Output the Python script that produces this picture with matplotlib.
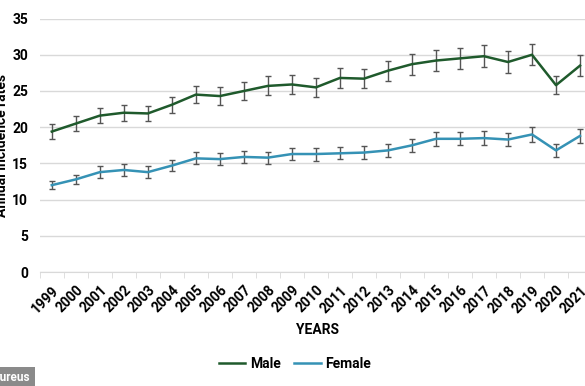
import matplotlib
matplotlib.use("Agg")
import matplotlib.pyplot as plt
import numpy as np

years = [str(y) for y in range(1999, 2022)]
male = [19.4, 20.5, 21.6, 22.0, 21.9, 23.1, 24.5, 24.3, 25.0, 25.7, 25.9,
        25.5, 26.8, 26.7, 27.8, 28.7, 29.2, 29.5, 29.8, 29.0, 30.0, 25.8, 28.5]
male_err = [1.0, 1.04, 1.08, 1.1, 1.06, 1.13, 1.17, 1.24, 1.22, 1.3, 1.27,
            1.31, 1.38, 1.33, 1.38, 1.45, 1.47, 1.47, 1.5, 1.47, 1.47, 1.27, 1.45]
female = [12.0, 12.8, 13.8, 14.1, 13.8, 14.7, 15.7, 15.6, 15.9, 15.8, 16.3,
          16.3, 16.4, 16.5, 16.8, 17.5, 18.4, 18.4, 18.5, 18.3, 19.0, 16.8, 18.8]
female_err = [0.53, 0.6, 0.78, 0.78, 0.78, 0.76, 0.83, 0.83, 0.87, 0.83, 0.83,
              0.9, 0.85, 0.85, 0.9, 0.92, 0.94, 0.9, 0.94, 0.9, 1.0, 0.85, 0.94]
yticks = [0, 5, 10, 15, 20, 25, 30, 35]

plt.rcParams['font.family'] = ['Roboto', 'DejaVu Sans']
fig = plt.figure(figsize=(5.85, 3.86), dpi=100)
ax = fig.add_axes([0.068, 0.295, 0.944, 0.657])

x = np.arange(len(years))
male_c = '#1f5a2c'
female_c = '#3592b5'
err_c = '#555555'

ax.errorbar(x, male, yerr=male_err, fmt='none', ecolor=err_c, elinewidth=1.0,
            capsize=2.2, capthick=1.0, zorder=3)
ax.errorbar(x, female, yerr=female_err, fmt='none', ecolor=err_c, elinewidth=1.0,
            capsize=2.2, capthick=1.0, zorder=3)
ax.plot(x, male, color=male_c, lw=1.8, label='Male', zorder=4)
ax.plot(x, female, color=female_c, lw=1.8, label='Female', zorder=4)

ax.set_xlim(-0.5, len(years) - 0.5)
ax.set_ylim(0, 35)
ax.set_yticks(yticks)
ax.set_yticklabels([str(t) for t in yticks], fontsize=10, fontweight='bold')
ax.yaxis.grid(True, color='#d9d9d9', lw=1.0)
ax.set_axisbelow(True)
ax.tick_params(axis='y', length=0, pad=8.5)

ax.set_xticks(x)
ax.set_xticklabels(years, rotation=45, ha='right', va='top', rotation_mode='anchor',
                   fontsize=10, fontweight='bold')
ax.set_xticks(np.arange(-0.5, len(years)), minor=True)
ax.tick_params(axis='x', which='major', length=0, pad=8)
ax.tick_params(axis='x', which='minor', length=4, color='#d9d9d9')

for s in ['top', 'right', 'left']:
    ax.spines[s].set_visible(False)
ax.spines['bottom'].set_color('#d9d9d9')

ax.set_xlabel('YEARS', fontsize=10, fontweight='bold')
ax.xaxis.set_label_coords(0.502, -0.2)
ax.set_ylabel('Annual incidence rates', fontsize=10, fontweight='bold')
ax.yaxis.set_label_coords(-0.056, 0.5)

leg = fig.legend(loc='center', bbox_to_anchor=(0.504, 0.058), ncol=2, frameon=False,
                 prop={'weight': 'bold', 'size': 10}, handlelength=1.9,
                 handletextpad=0.3, columnspacing=1.0)

fig.text(-0.012, 0.004, 'Cureus', fontsize=8.5, color='white', fontweight='bold',
         ha='left', va='bottom',
         bbox=dict(facecolor='#8a8a8a', edgecolor='none', pad=3))

fig.savefig('out.png', dpi=100)
